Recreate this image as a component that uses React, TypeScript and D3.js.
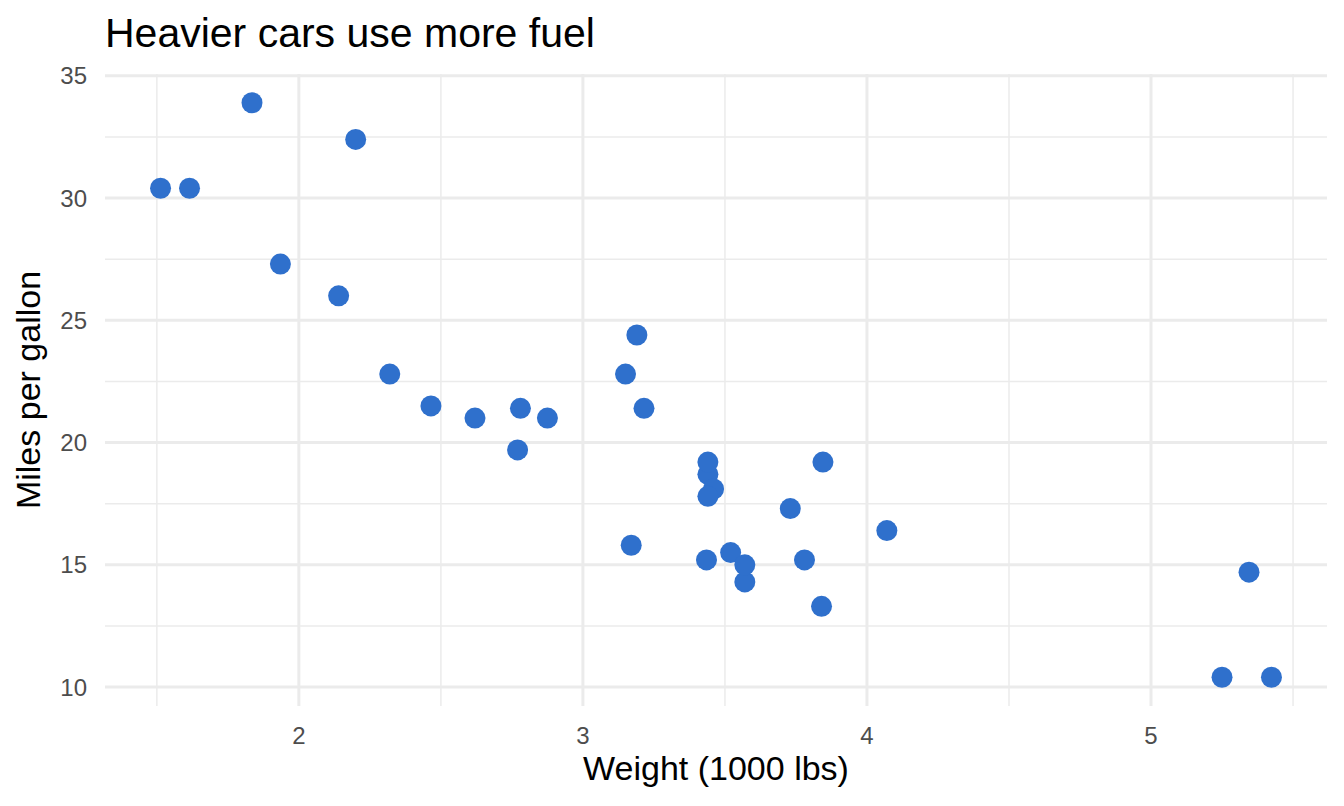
import React, { useEffect, useRef } from 'react';
import * as d3 from 'd3';

// car weight (1000 lbs) and fuel economy (mpg)
const weights = [
  2.62, 2.875, 2.32, 3.215, 3.44, 3.46, 3.57, 3.19, 3.15, 3.44, 3.44,
  4.07, 3.73, 3.78, 5.25, 5.424, 5.345, 2.2, 1.615, 1.835, 2.465, 3.52,
  3.435, 3.84, 3.845, 1.935, 2.14, 1.513, 3.17, 2.77, 3.57, 2.78,
];
const mpg = [
  21.0, 21.0, 22.8, 21.4, 18.7, 18.1, 14.3, 24.4, 22.8, 19.2, 17.8,
  16.4, 17.3, 15.2, 10.4, 10.4, 14.7, 32.4, 30.4, 33.9, 21.5, 15.5,
  15.2, 13.3, 19.2, 27.3, 26.0, 30.4, 15.8, 19.7, 15.0, 21.4,
];
const xTicks = [2, 3, 4, 5];
const xMinor = [1.5, 2.5, 3.5, 4.5, 5.5];
const yTicks = [10, 15, 20, 25, 30, 35];
const yMinor = [12.5, 17.5, 22.5, 27.5, 32.5];

const W = 1344;
const H = 806;

const App: React.FC = () => {
  const svgRef = useRef<SVGSVGElement>(null);

  useEffect(() => {
    if (!svgRef.current) return;
    const svg = d3.select(svgRef.current);
    svg.selectAll('*').remove();

    const left = 105, right = 1327, top = 74, bottom = 706;
    const font = "'Liberation Sans', Arial, sans-serif";

    const xExt = d3.extent(weights) as [number, number];
    const yExt = d3.extent(mpg) as [number, number];
    const xPad = (xExt[1] - xExt[0]) * 0.05;
    const yPad = (yExt[1] - yExt[0]) * 0.05;

    const x = d3.scaleLinear().domain([xExt[0] - xPad, xExt[1] + xPad]).range([left, right]);
    const y = d3.scaleLinear().domain([yExt[0] - yPad, yExt[1] + yPad]).range([bottom, top]);

    const grid = svg.append('g');
    grid.selectAll('.xminor').data(xMinor).enter().append('line')
      .attr('x1', d => x(d)).attr('x2', d => x(d))
      .attr('y1', top).attr('y2', bottom)
      .attr('stroke', '#ebebeb').attr('stroke-width', 1.5);
    grid.selectAll('.yminor').data(yMinor).enter().append('line')
      .attr('x1', left).attr('x2', right)
      .attr('y1', d => y(d)).attr('y2', d => y(d))
      .attr('stroke', '#ebebeb').attr('stroke-width', 1.5);
    grid.selectAll('.xmajor').data(xTicks).enter().append('line')
      .attr('x1', d => x(d)).attr('x2', d => x(d))
      .attr('y1', top).attr('y2', bottom)
      .attr('stroke', '#ebebeb').attr('stroke-width', 3);
    grid.selectAll('.ymajor').data(yTicks).enter().append('line')
      .attr('x1', left).attr('x2', right)
      .attr('y1', d => y(d)).attr('y2', d => y(d))
      .attr('stroke', '#ebebeb').attr('stroke-width', 3);

    // tick labels
    svg.append('g').selectAll('text').data(xTicks).enter().append('text')
      .attr('x', d => x(d)).attr('y', 744)
      .attr('text-anchor', 'middle')
      .attr('font-family', font).attr('font-size', 24).attr('fill', '#4d4d4d')
      .text(d => d);
    svg.append('g').selectAll('text').data(yTicks).enter().append('text')
      .attr('x', 87).attr('y', d => y(d))
      .attr('dy', '0.36em')
      .attr('text-anchor', 'end')
      .attr('font-family', font).attr('font-size', 24).attr('fill', '#4d4d4d')
      .text(d => d);

    // points
    svg.append('g').selectAll('circle').data(weights).enter().append('circle')
      .attr('cx', d => x(d))
      .attr('cy', (_, i) => y(mpg[i]))
      .attr('r', 10.5)
      .attr('fill', '#2f70cc');

    // titles
    svg.append('text')
      .attr('x', (left + right) / 2).attr('y', 780)
      .attr('text-anchor', 'middle')
      .attr('font-family', font).attr('font-size', 34).attr('fill', '#000')
      .text('Weight (1000 lbs)');
    svg.append('text')
      .attr('transform', `translate(40,${(top + bottom) / 2}) rotate(-90)`)
      .attr('text-anchor', 'middle')
      .attr('font-family', font).attr('font-size', 34).attr('fill', '#000')
      .text('Miles per gallon');
    svg.append('text')
      .attr('x', left).attr('y', 47)
      .attr('font-family', font).attr('font-size', 41).attr('fill', '#000')
      .text('Heavier cars use more fuel');
  }, []);

  return (
    <svg
      ref={svgRef}
      width={W}
      height={H}
      style={{ position: 'absolute', left: 0, top: 0, background: '#fff' }}
    />
  );
};

export default App;
